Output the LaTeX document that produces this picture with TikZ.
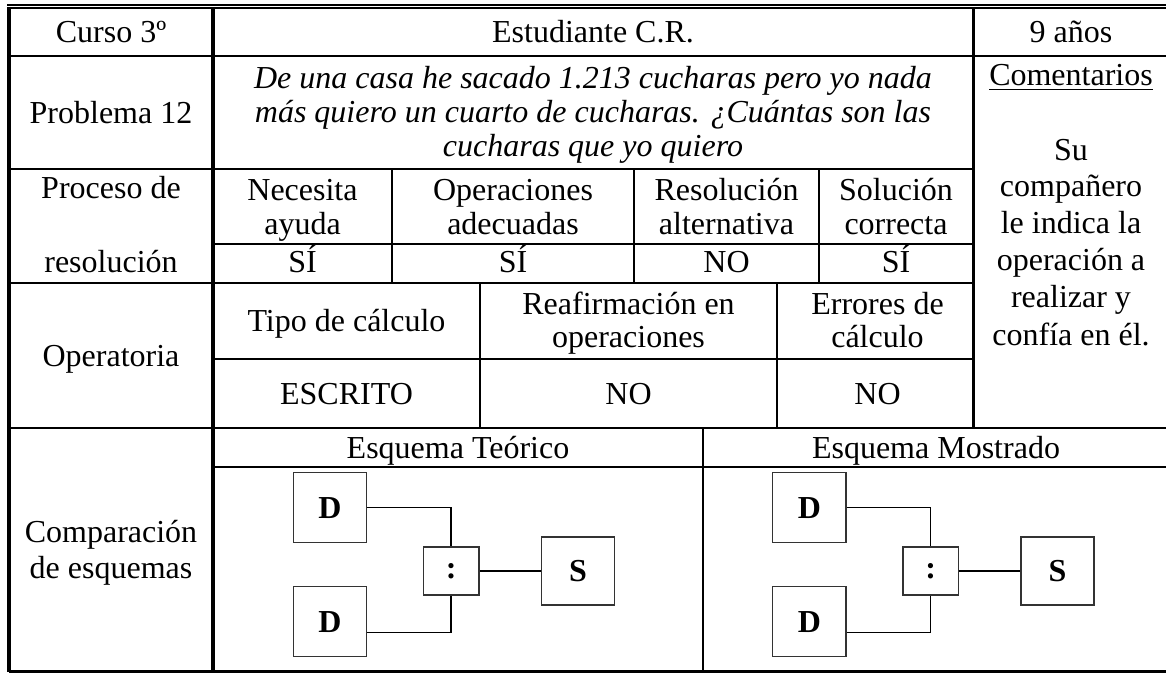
\documentclass[tikz,border=0pt]{standalone}
\usepackage{fontspec}
\setmainfont{Liberation Serif}
\usetikzlibrary{calc}

\begin{document}
\begin{tikzpicture}[x=0.5pt,y=-0.5pt,
  txt/.style={anchor=base,align=center,font=\fontsize{16}{17}\selectfont},
  borde/.style={line width=2pt},
  fila/.style={line width=1.25pt},
  linea/.style={line width=0.85pt},
  caja/.style={draw=black!80,line width=0.75pt,inner sep=0pt,font=\fontsize{16}{17}\selectfont\bfseries},
  enlace/.style={line width=0.75pt}]
\useasboundingbox (0,0) rectangle (1166,673);
% marco de la tabla
\draw[line width=0.65pt] (7,5) -- (1166,5);
\draw[line width=1pt] (7,8) -- (1166,8);
\draw[borde] (9,7) -- (9,672);
\draw[borde] (213,8) -- (213,671);
\draw[line width=1.5pt] (973.5,8) -- (973.5,428);
\draw[fila] (9,671.5) -- (1166,671.5);
\draw[fila] (9,56) -- (1166,56);
\draw[fila] (9,169) -- (973.5,169);
\draw[fila] (9,283) -- (973.5,283);
\draw[fila] (9,428) -- (1166,428);
\draw[linea] (213,244) -- (973,244) (213,359) -- (973,359) (213,467) -- (1166,467);
\foreach \x in {392,634,819} \draw[linea] (\x,169) -- (\x,283);
\foreach \x in {480,777} \draw[linea] (\x,283) -- (\x,428);
\draw[linea] (703,428) -- (703,671);
% textos (varias lineas: base en la ultima linea)
\node[txt] (curso) at (111,43) {Curso 3º};
\node[txt] (alumno) at (593,43) {Estudiante C.R.};
\node[txt] (edad) at (1071,43) {9 años};
\node[txt] (problema) at (111,124) {Problema 12};
\node[txt,font=\fontsize{16}{17}\selectfont\itshape] (enunciado) at (593,157) {De una casa he sacado 1.213 cucharas pero yo nada\\más quiero un cuarto de cucharas. ¿Cuántas son las\\cucharas que yo quiero};
\node[txt] (proceso) at (111,199) {Proceso de};
\node[txt] (resolucion) at (111,273) {resolución};
\node[txt] (ayuda) at (302.5,234.7) {Necesita\\ayuda};
\node[txt] (adecuadas) at (513,234.7) {Operaciones\\adecuadas};
\node[txt] (alternativa) at (726.5,234.7) {Resolución\\alternativa};
\node[txt] (correcta) at (896,234.7) {Solución\\correcta};
\node[txt] (ayuda-v) at (302.5,273) {SÍ};
\node[txt] (adecuadas-v) at (513,273) {SÍ};
\node[txt] (alternativa-v) at (726.5,273) {NO};
\node[txt] (correcta-v) at (896,273) {SÍ};
\node[txt] (operatoria) at (111,366) {Operatoria};
\node[txt] (tipo) at (346.5,332) {Tipo de cálculo};
\node[txt] (reafirma) at (628.5,348) {Reafirmación en\\operaciones};
\node[txt] (errores) at (877.5,348) {Errores de\\cálculo};
\node[txt] (tipo-v) at (346.5,404) {ESCRITO};
\node[txt] (reafirma-v) at (628.5,404) {NO};
\node[txt] (errores-v) at (877.5,404) {NO};
\node[txt,font=\fontsize{16}{18.5}\selectfont] (comentario) at (1071,345) {\underline{Comentarios}\\[18.5pt]Su\\compañero\\le indica la\\operación a\\realizar y\\confía en él.};
\node[txt,font=\fontsize{16}{18}\selectfont] (comparacion) at (111,578) {Comparación\\de esquemas};
\node[txt] (teorico) at (458,458) {Esquema Teórico};
\node[txt] (mostrado) at (936,458) {Esquema Mostrado};
% esquemas
\foreach \ox/\nm in {0/teo,479.4/mos}{
  \begin{scope}[shift={(\ox,0)}]
    \node[caja,minimum width=36.7pt,minimum height=35pt] (\nm-d1) at (330,507.7) {D};
    \node[caja,minimum width=36.7pt,minimum height=35pt] (\nm-d2) at (330,621.7) {D};
    \node[caja,minimum width=27.85pt,minimum height=24.15pt] (\nm-div) at (451.2,570.9) {:};
    \node[caja,minimum width=36.5pt,minimum height=34.15pt] (\nm-s) at (578.1,570.9) {S};
    \draw[enlace] (\nm-d1.east) -| (\nm-div.north);
    \draw[enlace] ([yshift=-5.5pt]\nm-d2.east) -| (\nm-div.south);
    \draw[enlace] (\nm-div) -- (\nm-s);
  \end{scope}
}
\end{tikzpicture}
\end{document}
